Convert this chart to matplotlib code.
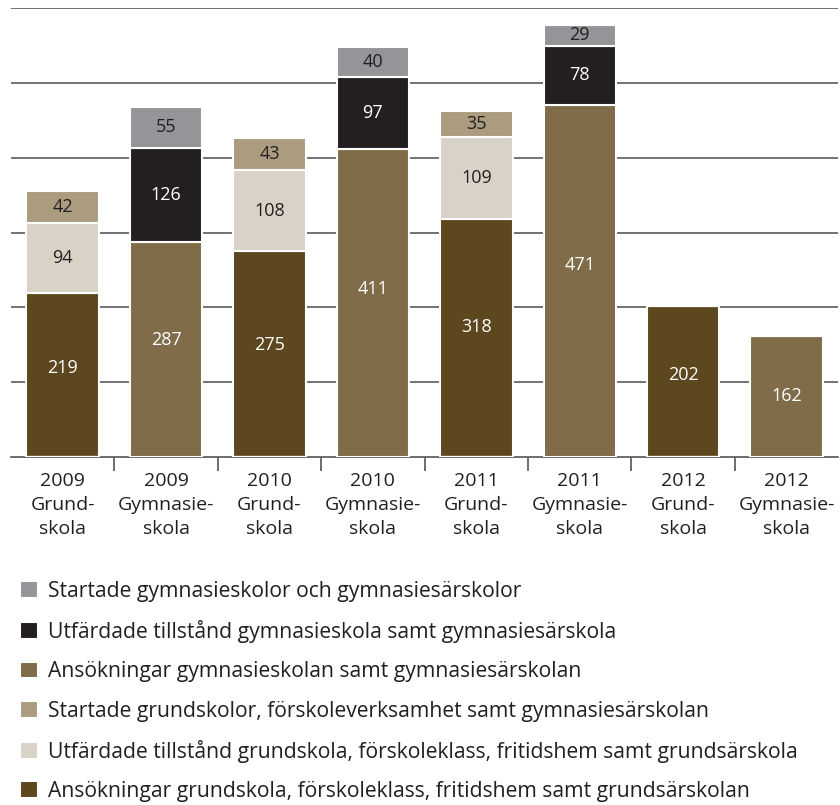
import numpy as np
import matplotlib
matplotlib.use("Agg")
import matplotlib.pyplot as plt

plt.rcParams['font.family'] = ['Open Sans', 'DejaVu Sans']

categories = ["2009\nGrund-\nskola", "2009\nGymnasie-\nskola",
              "2010\nGrund-\nskola", "2010\nGymnasie-\nskola",
              "2011\nGrund-\nskola", "2011\nGymnasie-\nskola",
              "2012\nGrund-\nskola", "2012\nGymnasie-\nskola"]

nan = np.nan
# Grundskola series (values only at Grund categories)
ans_grund = [219, nan, 275, nan, 318, nan, 202, nan]
utf_grund = [94, nan, 108, nan, 109, nan, nan, nan]
start_grund = [42, nan, 43, nan, 35, nan, nan, nan]
# Gymnasieskola series
ans_gymn = [nan, 287, nan, 411, nan, 471, nan, 162]
utf_gymn = [nan, 126, nan, 97, nan, 78, nan, nan]
start_gymn = [nan, 55, nan, 40, nan, 29, nan, nan]

series = [
    ("Ansökningar grundskola, förskoleklass, fritidshem samt grundsärskolan", ans_grund, "#5c471e", "white"),
    ("Utfärdade tillstånd grundskola, förskoleklass, fritidshem samt grundsärskola", utf_grund, "#d9d3c7", "#231f20"),
    ("Startade grundskolor, förskoleverksamhet samt gymnasiesärskolan", start_grund, "#ab9c80", "#231f20"),
    ("Ansökningar gymnasieskolan samt gymnasiesärskolan", ans_gymn, "#806c48", "white"),
    ("Utfärdade tillstånd gymnasieskola samt gymnasiesärskola", utf_gymn, "#231f20", "white"),
    ("Startade gymnasieskolor och gymnasiesärskolor", start_gymn, "#939598", "#231f20"),
]

fig = plt.figure(figsize=(8.4, 8.05), dpi=100)
ax = fig.add_axes([0.013, 0.4323, 0.985, 0.5577])

x = np.arange(len(categories))
width = 0.70
bottom_grund = np.zeros(len(categories))
bottom_gymn = np.zeros(len(categories))
handles = []
for i, (label, vals, color, tcolor) in enumerate(series):
    v = np.array(vals, dtype=float)
    b = bottom_grund if i < 3 else bottom_gymn
    bars = ax.bar(x, np.nan_to_num(v), width, bottom=b, color=color,
                  edgecolor="white", linewidth=1.5, label=label, zorder=3)
    handles.append(bars)
    for xi, vi, bi in zip(x, v, b):
        if not np.isnan(vi):
            off = vi * 0.045 if vi > 180 else 0
            ax.text(xi, bi + vi / 2 + off, f"{int(vi)}",
                    ha="center", va="center", color=tcolor, fontsize=13, zorder=4)
    b += np.nan_to_num(v)

ax.set_xlim(-0.5, len(categories) - 0.5)
ax.set_ylim(0, 600)
ax.set_yticks(np.arange(100, 601, 100))
ax.yaxis.grid(True, color="#5a5a5a", linewidth=1.2, zorder=0)
ax.set_axisbelow(True)
ax.tick_params(axis="y", left=False, labelleft=False)
for s in ["top", "right", "left"]:
    ax.spines[s].set_visible(False)
ax.spines["bottom"].set_color("#555555")
ax.spines["bottom"].set_linewidth(1.2)

ax.set_xticks(x)
ax.set_xticklabels(categories, fontsize=14, color="#231f20", linespacing=1.42)
ax.tick_params(axis="x", length=0, pad=11)
ax.set_xticks(np.arange(0.5, len(categories) - 0.5, 1), minor=True)
ax.tick_params(axis="x", which="minor", length=10, width=1.2, color="#555555")

fig.legend(handles=handles[::-1], labels=[s[0] for s in series][::-1],
           loc="upper left", bbox_to_anchor=(0.014, 0.289), frameon=False,
           fontsize=15.2, handlelength=0.85, handleheight=0.85, handletextpad=0.45,
           labelspacing=0.865, borderaxespad=0, labelcolor="#231f20")

fig.savefig("out.png", dpi=100)
